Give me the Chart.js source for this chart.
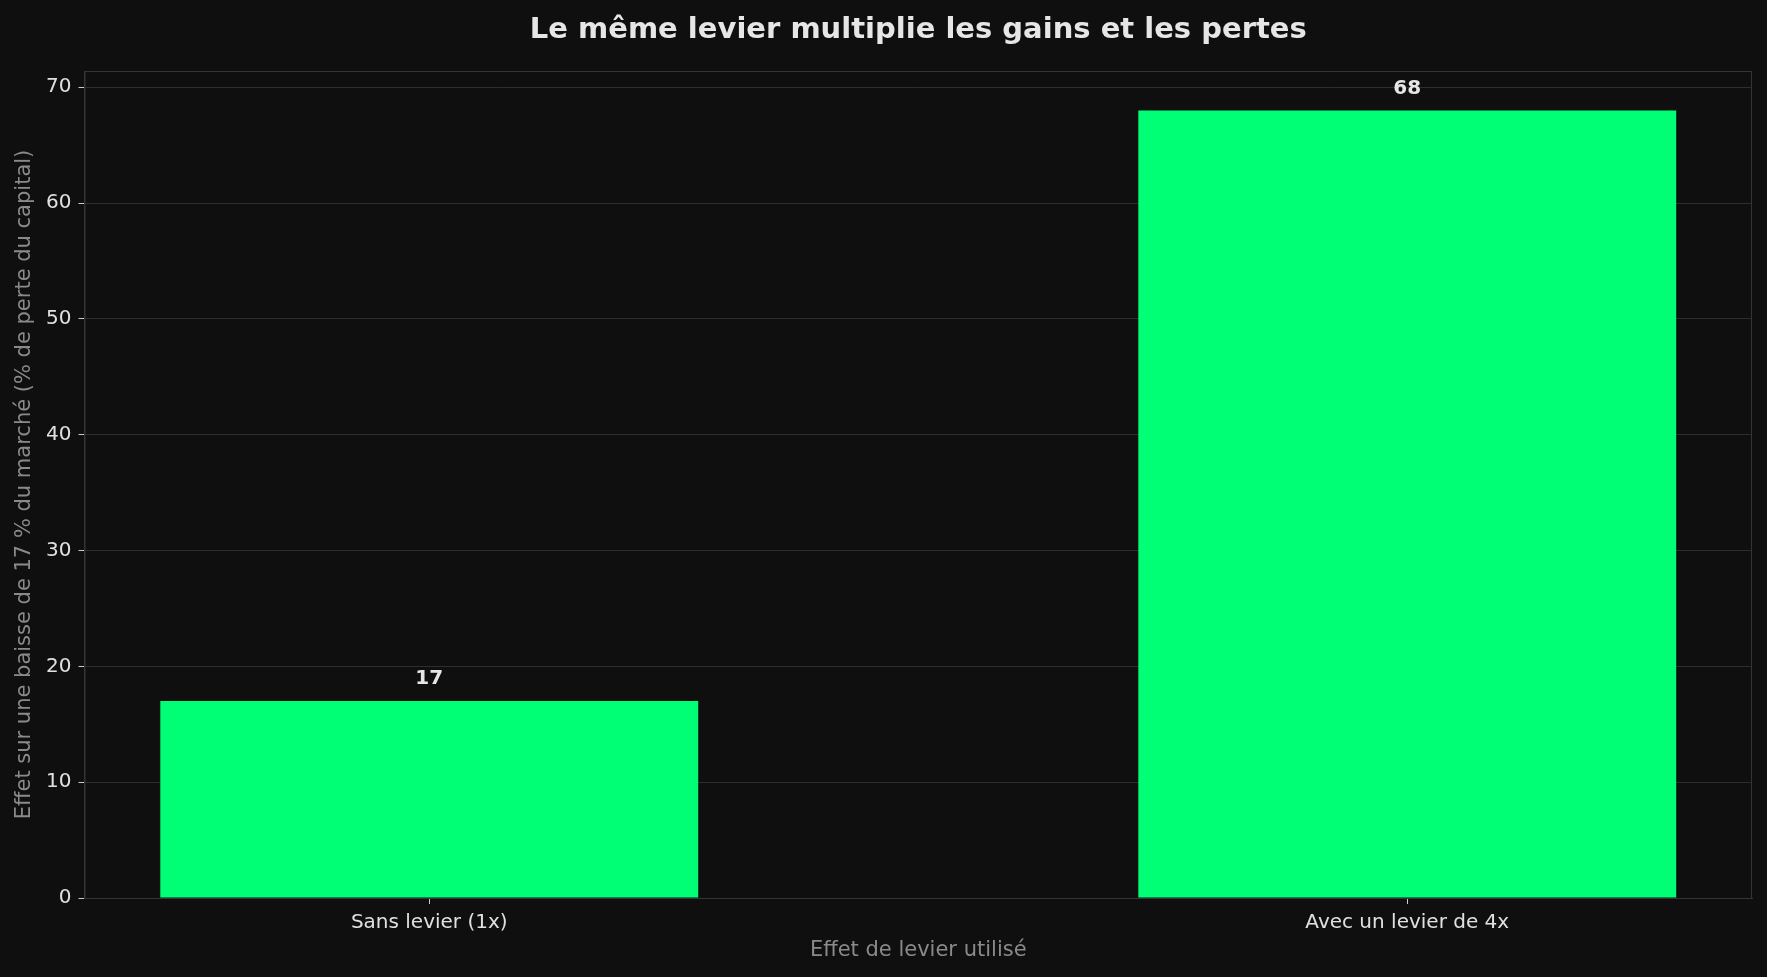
<!DOCTYPE html>
<html>
<head>
<meta charset="utf-8">
<script src="https://cdn.jsdelivr.net/npm/chart.js@4.4.1/dist/chart.umd.min.js"></script>
<style>
  html, body { margin: 0; padding: 0; background: #0f0f0f; }
  #wrap { width: 1767px; height: 977px; }
</style>
</head>
<body>
<div id="wrap"><canvas id="leverChart" width="1767" height="977"></canvas></div>
<script>
// Chart data
const categories = ['Sans levier (1x)', 'Avec un levier de 4x'];
const lossValues = [17, 68];
const yTicks = [0, 10, 20, 30, 40, 50, 60, 70];

const FONT = '"DejaVu Sans", "Liberation Sans", sans-serif';
const TITLE = 'Le même levier multiplie les gains et les pertes';

// frame around the plot area + title centred over it
const frame = {
    id: 'frame',
    afterDatasetsDraw(chart) {
        const { ctx, chartArea } = chart;
        ctx.save();
        ctx.strokeStyle = '#353535';
        ctx.lineWidth = 1;
        ctx.strokeRect(chartArea.left + 0.5, chartArea.top + 0.5,
            chartArea.right - chartArea.left - 1, chartArea.bottom - chartArea.top);

        ctx.fillStyle = '#e6e6e6';
        ctx.font = 'bold 29px ' + FONT;
        ctx.textAlign = 'center';
        ctx.textBaseline = 'middle';
        ctx.fillText(TITLE, (chartArea.left + chartArea.right) / 2, 30);
        ctx.restore();
    }
};

// value labels above each bar
const valueLabels = {
    id: 'valueLabels',
    afterDatasetsDraw(chart) {
        const { ctx } = chart;
        const meta = chart.getDatasetMeta(0);
        ctx.save();
        ctx.fillStyle = '#e6e6e6';
        ctx.font = 'bold 20px ' + FONT;
        ctx.textAlign = 'center';
        ctx.textBaseline = 'middle';
        meta.data.forEach(function(bar, i) {
            ctx.fillText(String(lossValues[i]), bar.x, bar.y - 22);
        });
        ctx.restore();
    }
};

document.addEventListener('DOMContentLoaded', function() {
    const ctx = document.getElementById('leverChart').getContext('2d');

    new Chart(ctx, {
        type: 'bar',
        data: {
            datasets: [{
                data: lossValues.map(function(v, i) { return { x: i, y: v }; }),
                backgroundColor: '#00ff75',
                borderWidth: 0,
                barPercentage: 0.55,
                categoryPercentage: 1.0
            }]
        },
        options: {
            responsive: false,
            animation: false,
            devicePixelRatio: 1,
            layout: { padding: { left: 0, right: 15, top: 71, bottom: 0 } },
            plugins: {
                legend: { display: false },
                tooltip: { enabled: false },
                title: { display: false }
            },
            scales: {
                x: {
                    type: 'linear',
                    offset: false,
                    min: -0.3525,
                    max: 1.3525,
                    afterBuildTicks: function(scale) {
                        scale.ticks = categories.map(function(c, i) { return { value: i }; });
                    },
                    afterFit: function(scale) { scale.height = 79; },
                    ticks: {
                        color: '#e0e0e0',
                        font: { family: FONT, size: 20 },
                        padding: 7,
                        maxRotation: 0,
                        callback: function(value) { return categories[value]; }
                    },
                    grid: {
                        offset: false,
                        drawOnChartArea: false,
                        drawTicks: true,
                        tickLength: 6,
                        tickColor: '#cccccc'
                    },
                    border: { color: '#353535' },
                    title: {
                        display: true,
                        text: 'Effet de levier utilisé',
                        color: '#8a8a8a',
                        font: { family: FONT, size: 21 },
                        padding: { top: 4, bottom: 14 }
                    }
                },
                y: {
                    min: 0,
                    max: 71.4,
                    afterBuildTicks: function(scale) {
                        scale.ticks = yTicks.map(function(v) { return { value: v }; });
                    },
                    afterFit: function(scale) { scale.width = 84.5; },
                    ticks: {
                        color: '#e0e0e0',
                        font: { family: FONT, size: 20 },
                        padding: 7
                    },
                    grid: {
                        color: '#2e2e2e',
                        lineWidth: 1,
                        tickLength: 6,
                        tickColor: '#cccccc'
                    },
                    border: { color: '#353535' },
                    title: {
                        display: true,
                        text: 'Effet sur une baisse de 17 % du marché (% de perte du capital)',
                        color: '#8a8a8a',
                        font: { family: FONT, size: 21 },
                        padding: { top: 12, bottom: 4 }
                    }
                }
            }
        },
        plugins: [frame, valueLabels]
    });
});
</script>
</body>
</html>
